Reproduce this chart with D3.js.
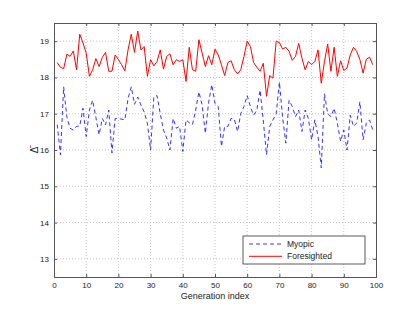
<!DOCTYPE html>
<html>
<head>
<meta charset="utf-8">
<script src="https://cdn.jsdelivr.net/npm/d3@7"></script>
<style>
  body { margin: 0; background: #fff; }
  svg { display: block; font-family: "Liberation Sans", Arial, sans-serif; }
</style>
</head>
<body>
<svg id="chart" width="415" height="312"></svg>
<script>
// series values, generation index 1..99
const myopic = [16.7, 15.87, 17.74, 16.9, 16.6, 16.55, 16.65, 16.66, 17.15, 16.37,
  17.1, 17.37, 16.9, 16.42, 16.87, 16.69, 17.1, 15.92, 16.87, 16.87,
  16.85, 16.83, 17.42, 17.74, 17.26, 17.46, 17.24, 17.05, 16.74, 16.0,
  17.46, 17.5, 17.0, 16.55, 16.33, 16.0, 16.87, 16.6, 16.65, 15.96,
  16.83, 16.75, 16.7, 17.1, 17.6, 17.24, 16.46, 17.3, 17.8, 17.28,
  17.2, 16.1, 16.65, 16.65, 16.87, 16.85, 16.51, 17.0, 17.2, 17.5,
  17.19, 16.96, 17.1, 17.65, 16.8, 15.87, 16.65, 16.83, 17.0, 17.87,
  16.9, 16.19, 17.37, 17.2, 16.92, 17.1, 16.51, 17.1, 16.87, 16.28,
  16.83, 16.37, 15.51, 17.55, 17.0, 16.92, 17.15, 16.74, 16.24, 16.55,
  16.0, 16.96, 16.65, 16.74, 17.33, 16.28, 16.74, 16.83, 16.55];

const foresighted = [18.41, 18.28, 18.24, 18.64, 18.58, 18.73, 18.21, 19.19, 18.95, 18.67,
  18.03, 18.21, 18.52, 18.3, 18.55, 18.69, 18.17, 18.17, 18.62, 18.49,
  18.35, 18.18, 18.76, 19.19, 18.69, 19.28, 18.76, 18.85, 18.03, 18.49,
  18.32, 18.44, 18.76, 18.23, 18.58, 18.65, 18.35, 18.49, 18.44, 18.49,
  17.89, 18.83, 18.21, 18.17, 19.04, 18.67, 18.3, 18.6, 18.35, 18.78,
  18.62, 18.35, 18.05, 18.41, 18.46, 18.21, 18.1, 18.21, 18.58, 19.0,
  18.85, 18.41, 18.28, 18.17, 18.39, 17.48, 18.05, 17.98, 19.0, 18.96,
  18.78, 18.83, 18.72, 18.47, 18.58, 18.94, 18.53, 18.21, 18.44, 18.35,
  18.44, 18.76, 17.84, 18.44, 18.92, 18.17, 18.83, 18.03, 18.46, 18.19,
  18.26, 18.62, 18.83, 18.72, 18.49, 18.12, 18.5, 18.56, 18.35];

const xTicks = [0, 10, 20, 30, 40, 50, 60, 70, 80, 90, 100];
const yTicks = [13, 14, 15, 16, 17, 18, 19];
const seriesNames = ['Myopic', 'Foresighted'];

const margin = { left: 54, top: 23, right: 39, bottom: 35 };
const width = 415, height = 312;

const svg = d3.select('#chart');

const x = d3.scaleLinear().domain([0, 100]).range([margin.left, width - margin.right]);
const y = d3.scaleLinear().domain([12.5, 19.5]).range([height - margin.bottom, margin.top]);

// grid (dotted)
const grid = svg.append('g');
grid.selectAll('.gx')
  .data(xTicks.slice(1, -1))
  .join('line')
  .attr('x1', d => x(d)).attr('x2', d => x(d))
  .attr('y1', y.range()[0]).attr('y2', y.range()[1])
  .attr('stroke', '#b4b4b4').attr('stroke-width', 0.8)
  .attr('stroke-dasharray', '1,2');
grid.selectAll('.gy')
  .data(yTicks)
  .join('line')
  .attr('y1', d => y(d)).attr('y2', d => y(d))
  .attr('x1', x.range()[0]).attr('x2', x.range()[1])
  .attr('stroke', '#b4b4b4').attr('stroke-width', 0.8)
  .attr('stroke-dasharray', '1,2');

// lines
const line = d3.line().x((d, i) => x(i + 1)).y(d => y(d));

svg.append('path')
  .datum(myopic)
  .attr('d', line)
  .attr('fill', 'none')
  .attr('stroke', '#0000ff')
  .attr('stroke-width', 0.8)
  .attr('stroke-dasharray', '4,3');

svg.append('path')
  .datum(foresighted)
  .attr('d', line)
  .attr('fill', 'none')
  .attr('stroke', '#ff0000')
  .attr('stroke-width', 1);

// axes (ticks inside, box around)
const fmt = d3.format('d');
const xAxisB = d3.axisBottom(x).tickValues(xTicks).tickSize(-3).tickPadding(5).tickFormat(fmt);
const xAxisT = d3.axisTop(x).tickValues(xTicks).tickSize(-3).tickFormat('');
const yAxisL = d3.axisLeft(y).tickValues(yTicks).tickSize(-3).tickPadding(5).tickFormat(fmt);
const yAxisR = d3.axisRight(y).tickValues(yTicks).tickSize(-3).tickFormat('');

[[xAxisB, `translate(0,${y.range()[0]})`],
 [xAxisT, `translate(0,${y.range()[1]})`],
 [yAxisL, `translate(${x.range()[0]},0)`],
 [yAxisR, `translate(${x.range()[1]},0)`]].forEach(([ax, tr]) => {
  const g = svg.append('g').attr('transform', tr).call(ax);
  g.select('.domain').attr('stroke', '#555').attr('stroke-width', 1);
  g.selectAll('.tick line').attr('stroke', '#555');
  g.selectAll('.tick text').attr('fill', '#222').attr('font-size', 8)
    .attr('font-family', '"Liberation Sans", Arial, sans-serif');
});

// labels
svg.append('text')
  .attr('x', (x.range()[0] + x.range()[1]) / 2)
  .attr('y', 299)
  .attr('text-anchor', 'middle')
  .attr('font-size', 9)
  .attr('fill', '#222')
  .text('Generation index');

svg.append('text')
  .attr('transform', `translate(38,${(y.range()[0] + y.range()[1]) / 2}) rotate(-90)`)
  .attr('text-anchor', 'middle')
  .attr('font-size', 10)
  .attr('fill', '#222')
  .text('\u0394\u0304');

// legend
const legend = svg.append('g').attr('transform', 'translate(243,236)');
legend.append('rect')
  .attr('width', 122).attr('height', 28)
  .attr('fill', '#fff').attr('stroke', '#333').attr('stroke-width', 0.8);

const legendStyles = [
  { color: '#0000ff', dash: '4,3', width: 0.8 },
  { color: '#ff0000', dash: null, width: 1 }
];
seriesNames.forEach((name, i) => {
  const yy = 8 + i * 12.3;
  legend.append('line')
    .attr('x1', 6).attr('x2', 39).attr('y1', yy).attr('y2', yy)
    .attr('stroke', legendStyles[i].color)
    .attr('stroke-width', legendStyles[i].width)
    .attr('stroke-dasharray', legendStyles[i].dash);
  legend.append('text')
    .attr('x', 44).attr('y', yy + 3)
    .attr('font-size', 8.5)
    .attr('fill', '#222')
    .text(name);
});
</script>
</body>
</html>
